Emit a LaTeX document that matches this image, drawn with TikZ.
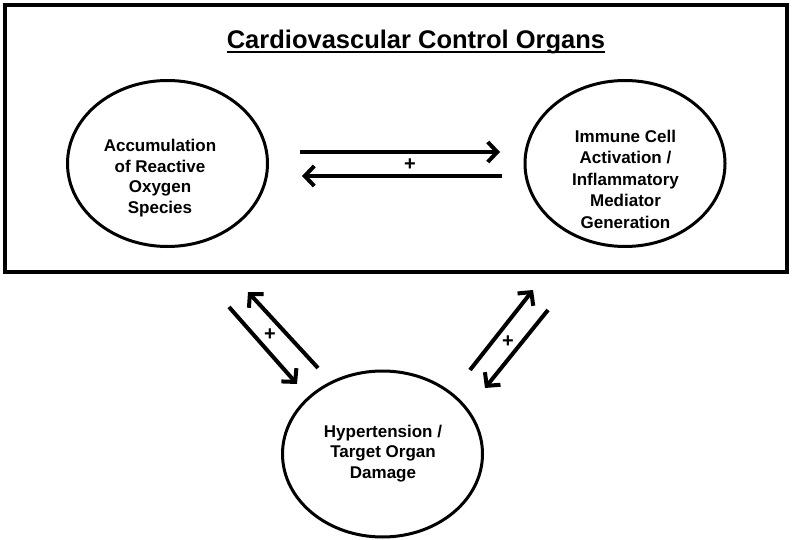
\documentclass[tikz,border=0pt]{standalone}
\usepackage{fontspec}
\setmainfont{Liberation Sans}
\usetikzlibrary{arrows.meta,shapes.geometric,calc}
\begin{document}
\begin{tikzpicture}[x=1pt,y=-1pt,
  oval/.style={draw,ellipse,line width=3pt,minimum width=200pt,minimum height=166pt,inner sep=0pt},
  lbl/.style={align=center,inner sep=0pt,font=\fontsize{17}{20.5}\selectfont\bfseries},
  arr/.style={line width=4pt,-{Straight Barb[length=9.5pt,width=20pt]}},
  plus/.style={inner sep=0pt,font=\fontsize{20}{22}\selectfont\bfseries}]
\useasboundingbox (0,0) rectangle (792,540);
\node[draw,line width=3.5pt,minimum width=782pt,minimum height=267pt,inner sep=0pt] (frame) at (396,138.5) {};
\node[font=\fontsize{25.5}{30}\selectfont\bfseries,inner sep=0pt,anchor=base] (title) at (416,48.5) {Cardiovascular Control Organs};
\draw[line width=2pt] ($(title.base west)+(0,3.7)$) -- ($(title.base east)+(0,3.7)$);

\node[oval] (ros) at (167.5,163.5) {};
\node[oval] (imm) at (625,163.5) {};
\node[oval] (htn) at (382.5,454) {};

\node[lbl] (rosT) at (160,178) {Accumulation\\of Reactive\\Oxygen\\Species};
\node[lbl,font=\fontsize{17}{21.5}\selectfont\bfseries] (immT) at (625.5,179) {Immune Cell\\Activation /\\Inflammatory\\Mediator\\Generation};
\node[lbl] (htnT) at (383,453.5) {Hypertension /\\Target Organ\\Damage};

\coordinate (h1s) at (300,152);
\coordinate (h1e) at (500,152);
\coordinate (h2s) at (502,176);
\coordinate (h2e) at (302,176);
\draw[arr] (h1s) -- (h1e);
\draw[arr] (h2s) -- (h2e);
\node[plus] (p1) at (410,165) {+};

\coordinate (l1s) at (318,368);
\coordinate (l1e) at (248,292);
\coordinate (l2s) at (229,307);
\coordinate (l2e) at (297,384);
\draw[arr] (l1s) -- (l1e);
\draw[arr] (l2s) -- (l2e);
\node[plus] (p2) at (270,335) {+};

\coordinate (r1s) at (470,370);
\coordinate (r1e) at (533,290);
\coordinate (r2s) at (548,310);
\coordinate (r2e) at (485,388);
\draw[arr] (r1s) -- (r1e);
\draw[arr] (r2s) -- (r2e);
\node[plus] (p3) at (508,342) {+};
\end{tikzpicture}
\end{document}
